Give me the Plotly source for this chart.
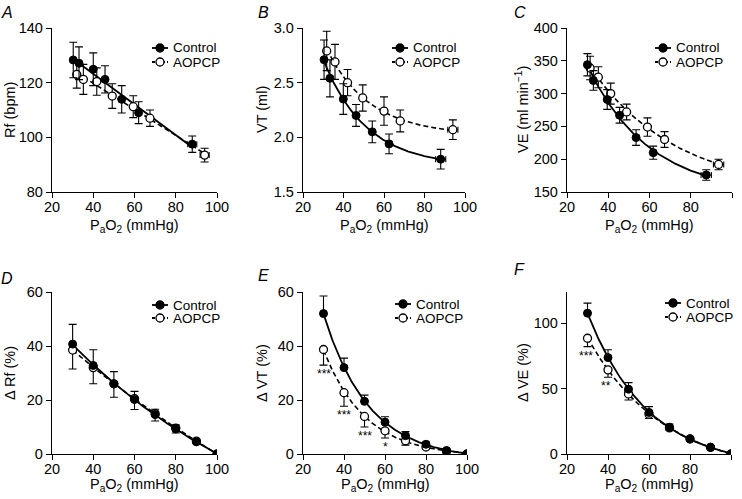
import numpy as np
import plotly.graph_objects as go

# ---------------- data ----------------
# Panel A: Rf (bpm)
A_ctrl_x = [30.3, 33.1, 40.0, 45.7, 53.8, 62.0, 88.0]
A_ctrl_xerr = [1.0, 1.0, 1.2, 1.0, 1.0, 1.2, 2.2]
A_ctrl_y = [128.3, 127.1, 124.9, 121.2, 113.9, 109.0, 97.5]
A_ctrl_yerr = [6.5, 6.0, 6.0, 5.0, 5.0, 4.0, 3.0]
A_aop_x = [32.0, 35.2, 41.7, 49.2, 59.4, 67.5, 94.0]
A_aop_xerr = [1.0, 1.0, 1.2, 1.0, 1.0, 1.0, 2.2]
A_aop_y = [123.0, 121.2, 120.4, 115.1, 111.2, 107.0, 93.5]
A_aop_yerr = [5.0, 5.5, 5.0, 4.5, 4.0, 3.0, 2.5]

# Panel B: VT (ml)
B_ctrl_x = [30.4, 33.3, 39.9, 46.2, 54.2, 62.5, 88.0]
B_ctrl_xerr = [1.0, 1.0, 1.2, 1.0, 1.0, 1.2, 2.5]
B_ctrl_y = [2.71, 2.54, 2.35, 2.20, 2.05, 1.94, 1.80]
B_ctrl_yerr = [0.18, 0.17, 0.14, 0.10, 0.10, 0.09, 0.09]
B_aop_x = [31.7, 35.8, 42.0, 49.5, 60.0, 68.0, 94.0]
B_aop_xerr = [1.0, 1.0, 1.2, 1.0, 1.0, 1.2, 2.5]
B_aop_y = [2.79, 2.69, 2.50, 2.36, 2.24, 2.15, 2.07]
B_aop_yerr = [0.18, 0.16, 0.12, 0.12, 0.13, 0.10, 0.09]

# Panel C: VE (ml min-1)
C_ctrl_x = [29.9, 32.8, 39.5, 45.5, 53.5, 61.8, 87.5]
C_ctrl_xerr = [1.0, 1.0, 1.2, 1.0, 1.0, 1.2, 2.5]
C_ctrl_y = [344, 320, 291, 267, 233, 210, 176]
C_ctrl_yerr = [17, 15, 15, 12, 12, 10, 8]
C_aop_x = [31.2, 35.2, 41.2, 48.9, 59.0, 67.3, 93.5]
C_aop_xerr = [1.0, 1.0, 1.2, 1.0, 1.0, 1.2, 2.5]
C_aop_y = [339, 325, 300, 272, 249, 230, 192]
C_aop_yerr = [18, 16, 16, 12, 14, 12, 8]

# Bottom row: percent change vs PaO2 steps
pao2_steps = [30, 40, 50, 60, 70, 80, 90, 100]

D_ctrl = [40.7, 32.8, 26.0, 20.2, 14.6, 9.3, 4.5, 0.0]
D_ctrl_err = [7.3, 5.8, 4.5, 3.0, 2.0, 1.5, 0.8, 0.0]
D_aop = [38.5, 32.0, 26.0, 20.5, 15.0, 9.6, 4.8, 0.0]
D_aop_err = [7.0, 6.0, 5.0, 4.0, 2.8, 1.8, 0.8, 0.0]

E_ctrl = [52.0, 32.0, 19.5, 11.8, 6.8, 3.6, 1.3, 0.0]
E_ctrl_err = [6.5, 3.5, 2.3, 2.0, 1.5, 0.8, 0.5, 0.0]
E_aop = [38.7, 22.7, 13.9, 8.6, 4.9, 2.6, 1.0, 0.0]
E_aop_err = [5.8, 5.0, 3.9, 2.7, 1.6, 0.8, 0.4, 0.0]

F_ctrl = [107.8, 73.8, 49.6, 31.8, 20.5, 11.6, 5.2, 0.0]
F_ctrl_err = [7.7, 6.0, 5.0, 4.5, 2.5, 1.5, 1.0, 0.0]
F_aop = [88.6, 64.4, 46.0, 30.5, 20.0, 11.5, 5.0, 0.0]
F_aop_err = [6.4, 5.6, 4.7, 3.3, 2.0, 1.0, 0.5, 0.0]

E_sig_x = [30, 40, 50, 60]
E_sig_text = ["***", "***", "***", "*"]
F_sig_x = [30, 40]
F_sig_text = ["***", "**"]

series_names = ["Control", "AOPCP"]
x_ticks = [20, 40, 60, 80, 100]
x_title = "P<sub>a</sub>O<sub>2</sub> (mmHg)"

# ---------------- helpers ----------------
W, H = 742, 499
FONT = "Liberation Sans, Arial, Helvetica, sans-serif"


def px_x(p):
    return p / W


def px_y(p):
    return 1 - p / H


def exp_fit(x, y):
    x = np.asarray(x, float)
    y = np.asarray(y, float)
    best = None
    for k in np.linspace(0.002, 0.25, 800):
        M = np.column_stack([np.ones_like(x), np.exp(-k * x)])
        coef = np.linalg.lstsq(M, y, rcond=None)[0]
        err = np.sum((M @ coef - y) ** 2)
        if best is None or err < best[0]:
            best = (err, k, coef)
    _, k, (c, a) = best
    xs = np.linspace(x.min(), x.max(), 200)
    return xs, c + a * np.exp(-k * xs)


def lin_fit(x, y):
    p = np.polyfit(x, y, 1)
    xs = np.linspace(min(x), max(x), 50)
    return xs, np.polyval(p, xs)


fig = go.Figure()

# panel pixel boxes: (x0, x1, ytop, ybottom)
boxes = {
    1: (52, 217, 28, 192),
    2: (303, 465, 28, 192),
    3: (567, 732, 28, 192),
    4: (52, 217, 292, 454),
    5: (303, 467, 292, 454),
    6: (567, 731, 292, 454),
}


def dom(i):
    x0, x1, yt, yb = boxes[i]
    return [px_x(x0), px_x(x1)], [px_y(yb), px_y(yt)]


def add_panel(i, cx, cy, cyerr, ax, ay, ayerr, cxerr=None, axerr=None,
              fit="exp", one_sided=False):
    xa = "x" if i == 1 else f"x{i}"
    ya = "y" if i == 1 else f"y{i}"
    f = exp_fit if fit == "exp" else lin_fit
    fx, fy = f(cx, cy)
    fig.add_trace(go.Scatter(x=fx, y=fy, mode="lines", xaxis=xa, yaxis=ya,
                             line=dict(color="black", width=1.8),
                             showlegend=False, hoverinfo="skip"))
    fx, fy = f(ax, ay)
    fig.add_trace(go.Scatter(x=fx, y=fy, mode="lines", xaxis=xa, yaxis=ya,
                             line=dict(color="black", width=1.6, dash="5px,3px"),
                             showlegend=False, hoverinfo="skip"))
    if one_sided:
        c_ey = dict(type="data", symmetric=False, array=cyerr,
                    arrayminus=[0] * len(cyerr), color="black",
                    thickness=1.1, width=4)
        a_ey = dict(type="data", symmetric=False, array=[0] * len(ayerr),
                    arrayminus=ayerr, color="black", thickness=1.1, width=4)
    else:
        c_ey = dict(type="data", array=cyerr, color="black", thickness=1.1, width=4)
        a_ey = dict(type="data", array=ayerr, color="black", thickness=1.1, width=4)
    c_ex = dict(type="data", array=cxerr, color="black", thickness=1.1, width=3) if cxerr else None
    a_ex = dict(type="data", array=axerr, color="black", thickness=1.1, width=3) if axerr else None
    fig.add_trace(go.Scatter(x=ax, y=ay, mode="markers", xaxis=xa, yaxis=ya,
                             error_y=a_ey, error_x=a_ex, name=series_names[1],
                             marker=dict(symbol="circle", size=8, color="white",
                                         line=dict(color="black", width=1.3)),
                             showlegend=False))
    fig.add_trace(go.Scatter(x=cx, y=cy, mode="markers", xaxis=xa, yaxis=ya,
                             error_y=c_ey, error_x=c_ex, name=series_names[0],
                             marker=dict(symbol="circle", size=8, color="black",
                                         line=dict(color="black", width=1)),
                             showlegend=False))


add_panel(1, A_ctrl_x, A_ctrl_y, A_ctrl_yerr, A_aop_x, A_aop_y, A_aop_yerr,
          A_ctrl_xerr, A_aop_xerr, fit="lin")
add_panel(2, B_ctrl_x, B_ctrl_y, B_ctrl_yerr, B_aop_x, B_aop_y, B_aop_yerr,
          B_ctrl_xerr, B_aop_xerr)
add_panel(3, C_ctrl_x, C_ctrl_y, C_ctrl_yerr, C_aop_x, C_aop_y, C_aop_yerr,
          C_ctrl_xerr, C_aop_xerr)
add_panel(4, pao2_steps, D_ctrl, D_ctrl_err, pao2_steps, D_aop, D_aop_err, one_sided=True)
add_panel(5, pao2_steps, E_ctrl, E_ctrl_err, pao2_steps, E_aop, E_aop_err, one_sided=True)
add_panel(6, pao2_steps, F_ctrl, F_ctrl_err, pao2_steps, F_aop, F_aop_err, one_sided=True)

y_specs = {
    1: dict(range=[80, 140], tickvals=[80, 100, 120, 140], title="Rf (bpm)", tx=10),
    2: dict(range=[1.5, 3.0], tickvals=[1.5, 2.0, 2.5, 3.0], title="VT (ml)",
            tickformat=".1f", tx=262),
    3: dict(range=[150, 400], tickvals=[150, 200, 250, 300, 350, 400],
            title="VE (ml min<sup>−1</sup>)", tx=522),
    4: dict(range=[0, 60], tickvals=[0, 20, 40, 60], title="Δ Rf (%)", tx=10),
    5: dict(range=[0, 60], tickvals=[0, 20, 40, 60], title="Δ VT (%)", tx=262),
    6: dict(range=[0, 124], tickvals=[0, 50, 100], title="Δ VE (%)", tx=523),
}
x_title_y = {1: 226, 2: 226, 3: 226, 4: 485, 5: 485, 6: 485}

axis_common = dict(showline=True, linecolor="black", linewidth=1.3, ticks="outside",
                   ticklen=5, tickwidth=1.3, tickcolor="black", showgrid=False,
                   zeroline=False, automargin=False,
                   tickfont=dict(family=FONT, size=14.5, color="black"))

layout = dict(width=W, height=H, margin=dict(l=0, r=0, t=0, b=0),
              paper_bgcolor="white", plot_bgcolor="white", showlegend=False,
              font=dict(family=FONT, color="black"))
for i in range(1, 7):
    xd, yd = dom(i)
    sx = "" if i == 1 else str(i)
    layout[f"xaxis{sx}"] = dict(domain=xd, range=[20, 100], tickvals=x_ticks,
                                anchor=f"y{sx}", ticklabelstandoff=-4, **axis_common)
    ys = y_specs[i]
    yd_ = dict(domain=yd, range=ys["range"], tickvals=ys["tickvals"], anchor=f"x{sx}",
               **axis_common)
    if "tickformat" in ys:
        yd_["tickformat"] = ys["tickformat"]
    layout[f"yaxis{sx}"] = yd_

fig.update_layout(**layout)

# axis titles
for i in range(1, 7):
    x0, x1, yt, yb = boxes[i]
    fig.add_annotation(text=x_title, x=px_x((x0 + x1) / 2), y=px_y(x_title_y[i]),
                       xref="paper", yref="paper", showarrow=False,
                       xanchor="center", yanchor="middle",
                       font=dict(family=FONT, size=14.5, color="black"))
    fig.add_annotation(text=y_specs[i]["title"], x=px_x(y_specs[i]["tx"]),
                       y=px_y((yt + yb) / 2), xref="paper", yref="paper",
                       showarrow=False, textangle=-90,
                       xanchor="center", yanchor="middle",
                       font=dict(family=FONT, size=14.5, color="black"))

# custom legends (pixels: symbol left x, row y for Control, row y for AOPCP)
legend_pos = {1: (152, 48, 62), 2: (392, 48, 62), 3: (655, 48, 62),
              4: (152, 305, 318), 5: (395, 304, 318), 6: (665, 303, 317)}
for i, (lx, yc, yo) in legend_pos.items():
    for name, yy, fill, dash in [(series_names[0], yc, "black", "solid"),
                                 (series_names[1], yo, "white", "3px,2px")]:
        yp = px_y(yy)
        fig.add_shape(type="line", xref="paper", yref="paper", x0=px_x(lx), x1=px_x(lx + 16),
                      y0=yp, y1=yp, line=dict(color="black", width=1.8, dash=dash))
        fig.add_shape(type="circle", xref="paper", yref="paper", xsizemode="pixel",
                      ysizemode="pixel", xanchor=px_x(lx + 8), yanchor=yp,
                      x0=-4, x1=4, y0=-4, y1=4, fillcolor=fill,
                      line=dict(color="black", width=1.3))
        fig.add_annotation(text=name, x=px_x(lx + 19), y=yp, xref="paper", yref="paper",
                           showarrow=False, xanchor="left", yanchor="middle",
                           font=dict(family=FONT, size=13.5, color="black"))

# panel letters
letters = [("A", 7, 12), ("B", 263, 12), ("C", 520, 12),
           ("D", 7, 278), ("E", 263, 275), ("F", 519, 269)]
for t, px, py in letters:
    fig.add_annotation(text=f"<i>{t}</i>", x=px_x(px), y=px_y(py), xref="paper", yref="paper",
                       showarrow=False, font=dict(family=FONT, size=16, color="black"),
                       xanchor="center", yanchor="middle")

# significance asterisks
for xv, txt in zip(E_sig_x, E_sig_text):
    k = pao2_steps.index(xv)
    fig.add_annotation(text=txt, x=xv, y=E_aop[k] - E_aop_err[k], xref="x5", yref="y5",
                       showarrow=False, yanchor="top", xanchor="center",
                       font=dict(family=FONT, size=12, color="black"))
for xv, txt in zip(F_sig_x, F_sig_text):
    k = pao2_steps.index(xv)
    fig.add_annotation(text=txt, x=xv, y=F_aop[k] - F_aop_err[k], xref="x6", yref="y6",
                       showarrow=False, yanchor="top", xanchor="center", xshift=-2,
                       font=dict(family=FONT, size=12, color="black"))

fig.write_html("out.html", config={"displayModeBar": False},
               post_script="document.body.style.margin='0px';")
